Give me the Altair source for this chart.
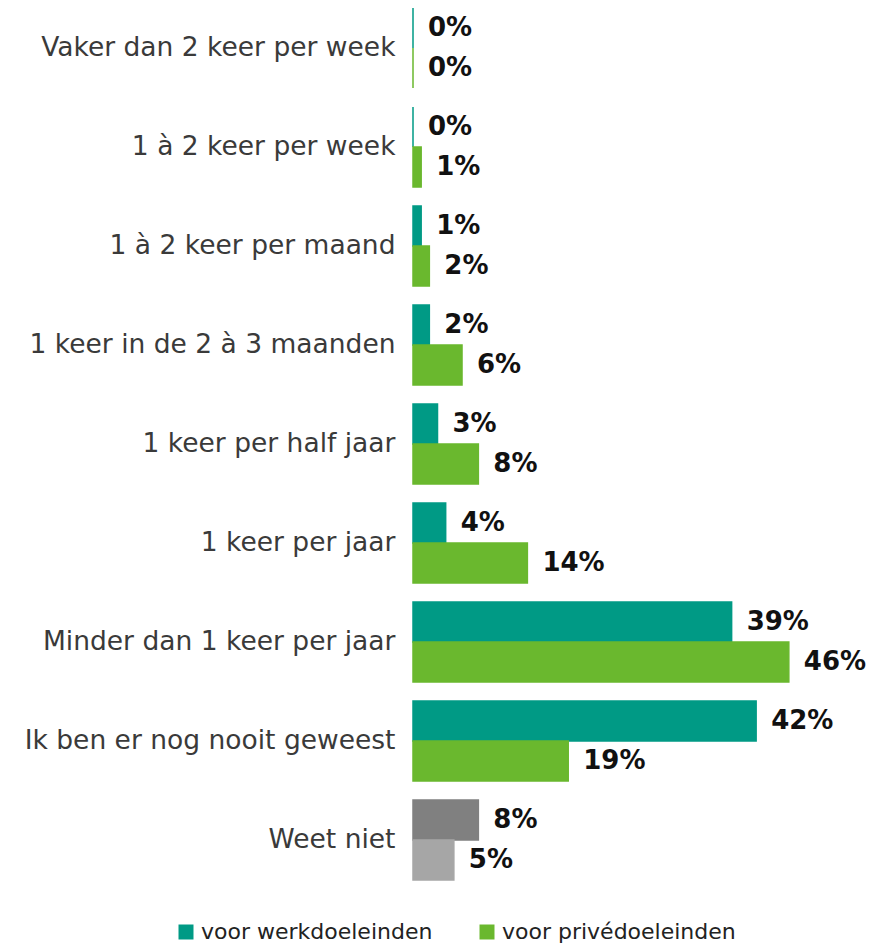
import altair as alt
import pandas as pd

categories = [
    "Vaker dan 2 keer per week",
    "1 à 2 keer per week",
    "1 à 2 keer per maand",
    "1 keer in de 2 à 3 maanden",
    "1 keer per half jaar",
    "1 keer per jaar",
    "Minder dan 1 keer per jaar",
    "Ik ben er nog nooit geweest",
    "Weet niet",
]
werk = [0, 0, 1, 2, 3, 4, 39, 42, 8]
prive = [0, 1, 2, 6, 8, 14, 46, 19, 5]
series = ["voor werkdoeleinden", "voor privédoeleinden"]

rows = []
for i, c in enumerate(categories):
    for s, vals in zip(series, [werk, prive]):
        v = vals[i]
        if c == "Weet niet":
            kleur = "weet_werk" if s == series[0] else "weet_prive"
        else:
            kleur = s
        rows.append({"cat": c, "serie": s, "waarde": v, "kleur": kleur, "label": f"{v}%"})
df = pd.DataFrame(rows)

FONT = "DejaVu Sans"
PX_PER = 8.17
W = 463
H = 872

y = alt.Y("cat:N", sort=categories, title=None,
          scale=alt.Scale(paddingInner=0.192, paddingOuter=0),
          axis=alt.Axis(domain=False, ticks=False, labelFont=FONT, labelFontSize=26.5,
                        labelColor="#3a3a3a", labelPadding=18, labelLimit=500))
yoff = alt.YOffset("serie:N", sort=series, scale=alt.Scale(paddingInner=0, paddingOuter=0))
x = alt.X("waarde:Q", scale=alt.Scale(domain=[0, W / PX_PER], nice=False, zero=True),
          axis=None, title=None)

color_scale = alt.Scale(domain=series + ["weet_werk", "weet_prive"],
                        range=["#009A85", "#6AB82E", "#808080", "#A6A6A6"])

bars = alt.Chart(df).mark_bar(strokeWidth=1.5).encode(
    y=y, yOffset=yoff, x=x,
    stroke=alt.Stroke("kleur:N", scale=color_scale, legend=None),
    color=alt.Color("kleur:N", scale=color_scale,
                    legend=alt.Legend(values=series, title=None, orient="none",
                                      direction="horizontal", legendX=-238, legendY=913,
                                      symbolType="square", symbolSize=225,
                                      symbolStrokeWidth=0, labelFont=FONT,
                                      labelFontSize=22, labelColor="#222222",
                                      columnPadding=43, labelOffset=4,
                                      labelLimit=400, padding=0)),
)

texts = alt.Chart(df).mark_text(align="left", baseline="middle", dx=15,
                                font=FONT, fontSize=26, fontWeight="bold",
                                color="#111111").encode(
    y=y, yOffset=yoff, x=x, text="label:N",
)

chart = alt.layer(bars, texts).properties(
    width=W, height=H,
    autosize=alt.AutoSizeParams(type="none"),
    padding={"left": 405, "top": 0, "right": 0, "bottom": 64},
).configure_view(stroke=None)

chart.save("out.html", embed_options={"renderer": "svg", "actions": False})
